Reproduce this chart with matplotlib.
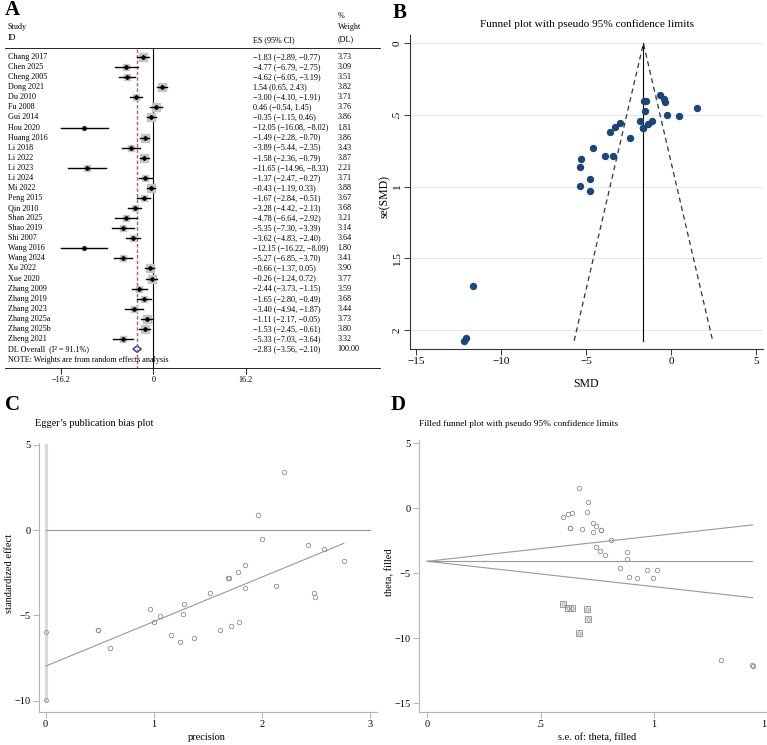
import matplotlib
matplotlib.use("Agg")
from matplotlib import pyplot as plt
from matplotlib.patches import Polygon

plt.rcParams['font.family'] = ['Liberation Serif', 'DejaVu Serif']

## forest plot data (panel A)
studies = ["Chang 2017", "Chen 2025", "Cheng 2005", "Dong 2021", "Du 2010", "Fu 2008",
           "Gui 2014", "Hou 2020", "Huang 2016", "Li 2018", "Li 2022", "Li 2023",
           "Li 2024", "Mi 2022", "Peng 2015", "Qin 2010", "Shan 2025", "Shao 2019",
           "Shi 2007", "Wang 2016", "Wang 2024", "Xu 2022", "Xue 2020", "Zhang 2009",
           "Zhang 2019", "Zhang 2023", "Zhang 2025a", "Zhang 2025b", "Zheng 2021"]
es = [-1.83, -4.77, -4.62, 1.54, -3.00, 0.46, -0.35, -12.05, -1.49, -3.89, -1.58, -11.65,
      -1.37, -0.43, -1.67, -3.28, -4.78, -5.35, -3.62, -12.15, -5.27, -0.66, -0.26, -2.44,
      -1.65, -3.40, -1.11, -1.53, -5.33]
lo = [-2.89, -6.79, -6.05, 0.65, -4.10, -0.54, -1.15, -16.08, -2.28, -5.44, -2.36, -14.96,
      -2.47, -1.19, -2.84, -4.42, -6.64, -7.30, -4.83, -16.22, -6.85, -1.37, -1.24, -3.73,
      -2.80, -4.94, -2.17, -2.45, -7.03]
hi = [-0.77, -2.75, -3.19, 2.43, -1.91, 1.45, 0.46, -8.02, -0.70, -2.35, -0.79, -8.33,
      -0.27, 0.33, -0.51, -2.13, -2.92, -3.39, -2.40, -8.09, -3.70, 0.05, 0.72, -1.15,
      -0.49, -1.87, -0.05, -0.61, -3.64]
weight = [3.73, 3.09, 3.51, 3.82, 3.71, 3.76, 3.86, 1.81, 3.86, 3.43, 3.87, 2.21, 3.71,
          3.88, 3.67, 3.68, 3.21, 3.14, 3.64, 1.80, 3.41, 3.90, 3.77, 3.59, 3.68, 3.44,
          3.73, 3.80, 3.32]
overall = [-2.83, -3.56, -2.10]
forest_ticks = [-16.2, 0, 16.2]

## funnel plot (panel B): SMD and its standard error
smd_b = es
se_b = [0.541, 1.031, 0.730, 0.454, 0.559, 0.508, 0.411, 2.056, 0.403, 0.788, 0.401, 1.691,
        0.561, 0.388, 0.594, 0.584, 0.949, 0.997, 0.620, 2.074, 0.804, 0.362, 0.500, 0.658,
        0.589, 0.783, 0.541, 0.469, 0.865]
funnel_b_x = [-5.70, -1.63, 2.44]
funnel_b_y = [2.075, 0.0, 2.075]

## Egger plot (panel C)
precision = [1.848, 0.970, 1.370, 2.203, 1.789, 1.969, 2.433, 0.486, 2.481, 1.269, 2.494,
             0.591, 1.783, 2.577, 1.684, 1.712, 1.054, 1.003, 1.613, 0.482, 1.244, 2.762,
             2.000, 1.520, 1.698, 1.277, 1.848, 2.132, 1.156]
std_effect = [-3.383, -4.627, -6.329, 3.392, -5.367, 0.906, -0.852, -5.861, -3.697, -4.937,
              -3.940, -6.889, -2.442, -1.108, -2.811, -5.616, -5.037, -5.366, -5.839, -5.858,
              -6.555, -1.823, -0.520, -3.708, -2.801, -4.342, -2.052, -3.262, -6.162]
egger_fit_x = [0.0, 2.76]
egger_fit_y = [-7.97, -0.78]
egger_ci = [-5.95, -9.95]

## filled funnel plot (panel D)
theta_obs = [1.54, 0.46, -0.26, -0.66, -0.43, -0.35, -1.49, -1.53, -1.58, -1.11, -1.37,
             -1.65, -1.67, -1.83, -2.44, -3.00, -3.28, -3.62, -3.40, -3.89, -4.62, -4.77,
             -4.78, -5.27, -5.33, -5.35, -11.65, -12.05, -12.15]
se_obs = [0.671, 0.709, 0.704, 0.599, 0.619, 0.638, 0.631, 0.631, 0.682, 0.732, 0.746,
          0.766, 0.766, 0.732, 0.809, 0.743, 0.760, 0.782, 0.879, 0.882, 0.849, 0.970,
          1.012, 0.891, 0.925, 0.994, 1.294, 1.431, 1.435]
theta_fill = [-7.36, -7.65, -7.69, -7.77, -8.49, -9.57]
se_fill = [0.600, 0.619, 0.637, 0.706, 0.709, 0.669]
d_center = -4.08
d_se_max = 1.434
d_upper = -1.28
d_lower = -6.88

W, H = 767, 745
fig = plt.figure(figsize=(W / 100, H / 100), dpi=100)


def px_axes(x0, y0, x1, y1):
    return fig.add_axes([x0 / W, 1 - y1 / H, (x1 - x0) / W, (y1 - y0) / H])


def letter(x, y, s):
    fig.text(x / W, 1 - y / H, s, fontsize=15, fontweight='bold', ha='center', va='center')


def num(v):
    return format(v, '.2f').replace('-', '\u2212')


grey = '#999999'
light = '#b4b4b4'

# ---------------- panel A: forest plot ----------------
axA = px_axes(5, 48, 380, 368)
fs = 5.85
n = len(studies)
axA.set_xlim(-25.97, 39.7)
axA.set_ylim(30.88, -0.894)
for s in ['left', 'right']:
    axA.spines[s].set_visible(False)
axA.spines['top'].set_linewidth(0.6)
axA.spines['bottom'].set_linewidth(0.6)
axA.set_yticks([])
axA.set_xticks(forest_ticks)
axA.set_xticklabels(['\u221216.2', '0', '16.2'], fontsize=fs)
axA.tick_params(axis='x', length=4, width=0.6, pad=2)

axA.axvline(0, color='black', lw=0.8)
axA.plot([overall[0], overall[0]], [-0.75, 30.88], color='#b85c64', lw=1.0, dashes=(2.5, 1.5))
for i in range(n):
    axA.plot([es[i]], [i], marker='s', ms=5.1 * (weight[i] / 3.8) ** 0.5,
             color='#c4c4c4', mec='#c4c4c4', ls='none')
    axA.plot([lo[i], hi[i]], [i, i], color='black', lw=1.0)
    axA.plot([es[i]], [i], marker='D', ms=2.0, color='black', ls='none')
    axA.text(-25.45, i, studies[i], fontsize=fs, va='center', ha='left')
    axA.text(17.46, i, "%s (%s, %s)" % (num(es[i]), num(lo[i]), num(hi[i])),
             fontsize=fs, va='center', ha='left')
    axA.text(32.3, i, format(weight[i], '.2f'), fontsize=fs, va='center', ha='left')

axA.add_patch(Polygon([[overall[1], n], [overall[0], n - 0.32], [overall[2], n],
                       [overall[0], n + 0.32]], closed=True, fill=False,
                      edgecolor='#2a3588', lw=1.0))
axA.text(-25.45, n, "DL Overall  (I\u00b2 = 91.1%)", fontsize=fs, va='center')
axA.text(17.46, n, "%s (%s, %s)" % (num(overall[0]), num(overall[1]), num(overall[2])),
         fontsize=fs, va='center')
axA.text(32.3, n, "100.00", fontsize=fs, va='center')
axA.text(-25.45, 30.09, "NOTE: Weights are from random effects analysis", fontsize=fs,
         va='center')
axA.text(-25.45, -2.98, "Study", fontsize=fs, va='center', clip_on=False)
axA.text(-25.45, -1.84, "ID", fontsize=fs, va='center', clip_on=False)
axA.text(17.46, -1.64, "ES (95% CI)", fontsize=fs, va='center', clip_on=False)
axA.text(32.3, -4.1, "%", fontsize=fs, va='center', clip_on=False)
axA.text(32.3, -3.0, "Weight", fontsize=fs, va='center', clip_on=False)
axA.text(32.3, -1.76, "(DL)", fontsize=fs, va='center', clip_on=False)
letter(12, 10, "A")

# ---------------- panel B: funnel plot ----------------
axB = px_axes(410, 35, 763, 349)
axB.set_xlim(-15.35, 5.4)
axB.set_ylim(2.133, -0.058)
for s in ['top', 'right']:
    axB.spines[s].set_visible(False)
for s in ['left', 'bottom']:
    axB.spines[s].set_linewidth(0.8)
    axB.spines[s].set_color('#333333')
axB.set_yticks([0, 0.5, 1, 1.5, 2])
axB.set_yticklabels(['0', '.5', '1', '1.5', '2'], rotation=90, va='center', fontsize=8)
axB.set_xticks([-15, -10, -5, 0, 5])
axB.set_xticklabels(['\u221215', '\u221210', '\u22125', '0', '5'], fontsize=8)
axB.tick_params(length=4, width=0.7, pad=2, color='#333333')
for yv in [0, 0.5, 1, 1.5, 2]:
    axB.axhline(yv, color='#dce9ee', lw=0.8, zorder=0)
axB.plot([funnel_b_x[1], funnel_b_x[1]], [funnel_b_y[1], funnel_b_y[0]], color='black', lw=0.8)
axB.plot(funnel_b_x, funnel_b_y, color='#333333', lw=0.9, dashes=(4, 3))
axB.plot(smd_b, se_b, 'o', ms=4.3, color='#1d4677', mec='#1d4677')
axB.set_xlabel("SMD", fontsize=8.5)
axB.set_ylabel("se(SMD)", fontsize=8.5)
axB.xaxis.set_label_coords(0.5, -0.092)
axB.yaxis.set_label_coords(-0.054, 0.487)
fig.text(586.7 / W, 1 - 24 / H, "Funnel plot with pseudo 95% confidence limits",
         fontsize=8.1, ha='center', va='center')
letter(400, 13, "B")

# ---------------- panel C: Egger ----------------
axC = px_axes(39.3, 443, 376.7, 711.7)
axC.set_xlim(-0.059, 3.065)
axC.set_ylim(-10.64, 5.1)
for s in ['top', 'right']:
    axC.spines[s].set_visible(False)
for s in ['left', 'bottom']:
    axC.spines[s].set_color(light)
    axC.spines[s].set_linewidth(0.8)
axC.set_xticks([0, 1, 2, 3])
axC.set_yticks([-10, -5, 0, 5])
axC.set_yticklabels(['\u221210', '\u22125', '0', '5'])
axC.tick_params(length=4, width=0.7, color=light, labelsize=7.5, pad=2)
axC.plot([0, 0], [-10, 5], color='#dadada', lw=2.2, zorder=1)
axC.plot([0, 3], [0, 0], color=grey, lw=0.8)
axC.plot(egger_fit_x, egger_fit_y, color=grey, lw=0.8)
axC.plot([0, 0], egger_ci, 'o', ms=2.8, mfc='none', mec='#8c8c8c', mew=0.6)
axC.plot(precision, std_effect, 'o', ms=3.2, mfc='none', mec='#8c8c8c', mew=0.6)
axC.set_xlabel("precision", fontsize=7.5)
axC.set_ylabel("standardized effect", fontsize=7.5)
axC.xaxis.set_label_coords(0.497, -0.079)
axC.yaxis.set_label_coords(-0.075, 0.516)
fig.text(35 / W, 1 - 424 / H, "Egger\u2019s publication bias plot", fontsize=7.4,
         ha='left', va='center')
letter(12, 405, "C")

# ---------------- panel D: filled funnel ----------------
axD = px_axes(419.3, 440, 772, 711.7)
axD.set_xlim(-0.035, 1.52)
axD.set_ylim(-15.65, 5.25)
for s in ['top', 'right']:
    axD.spines[s].set_visible(False)
for s in ['left', 'bottom']:
    axD.spines[s].set_color(light)
    axD.spines[s].set_linewidth(0.8)
axD.set_xticks([0, 0.5, 1, 1.5])
axD.set_xticklabels(['0', '.5', '1', '1.5'])
axD.set_yticks([-15, -10, -5, 0, 5])
axD.set_yticklabels(['\u221215', '\u221210', '\u22125', '0', '5'])
axD.tick_params(length=4, width=0.7, color=light, labelsize=7.5, pad=2)
axD.plot([0, d_se_max], [d_center, d_center], color=grey, lw=0.8)
axD.plot([0, d_se_max], [d_center, d_upper], color=grey, lw=0.8)
axD.plot([0, d_se_max], [d_center, d_lower], color=grey, lw=0.8)
axD.plot(se_obs, theta_obs, 'o', ms=3.2, mfc='none', mec='#8c8c8c', mew=0.6)
axD.plot(se_fill, theta_fill, 's', ms=4.2, mfc='none', mec='#8c8c8c', mew=0.6)
axD.plot(se_fill, theta_fill, 'o', ms=2.4, mfc='none', mec='#8c8c8c', mew=0.6)
axD.set_xlabel("s.e. of: theta, filled", fontsize=7.5)
axD.set_ylabel("theta, filled", fontsize=7.5)
axD.xaxis.set_label_coords(0.503, -0.079)
axD.yaxis.set_label_coords(-0.072, 0.515)
fig.text(419 / W, 1 - 424 / H, "Filled funnel plot with pseudo 95% confidence limits",
         fontsize=6.7, ha='left', va='center')
letter(398, 405, "D")

fig.savefig("out.png", dpi=100)
